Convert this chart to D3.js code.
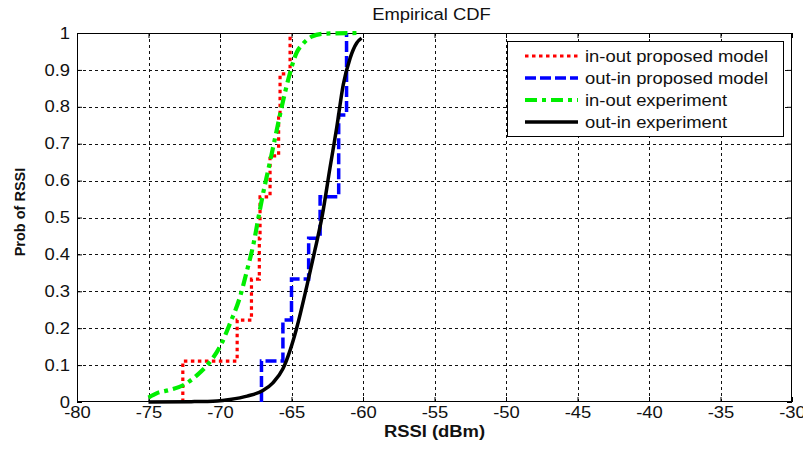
<!DOCTYPE html>
<html><head><meta charset="utf-8">
<script src="https://cdn.jsdelivr.net/npm/d3@7/dist/d3.min.js"></script>
<style>
html,body{margin:0;padding:0;background:#fff;}
svg{display:block;}
text{font-family:"Liberation Sans",Arial,sans-serif;fill:#111;}
</style></head>
<body>
<script>
// ---- data ----
const xTicks = [-80,-75,-70,-65,-60,-55,-50,-45,-40,-35,-30];
const yTicks = [0,0.1,0.2,0.3,0.4,0.5,0.6,0.7,0.8,0.9,1];

// in-out proposed model (stairs)
const redX = [-72.6,-72.6,-68.8,-67.8,-67.25,-67.2,-66.5,-65.9,-65.8,-65.1];
const redP = [0,0.111,0.222,0.333,0.444,0.556,0.667,0.778,0.889,1.0];
// out-in proposed model (stairs)
const blueX = [-67.1,-67.1,-65.6,-65.0,-63.8,-63.0,-61.7,-61.7,-61.15,-61.15];
const blueP = [0,0.111,0.222,0.333,0.444,0.556,0.667,0.778,0.889,1.0];
// in-out experiment
const greenX = [-75.0,-74.4,-73.5,-72.5,-71.6,-70.7,-70.0,-69.3,-68.6,-68.1,-67.65,-67.3,-67.05,-66.6,-66.15,-65.7,-65.2,-64.65,-64.17,-63.6,-62.8,-60.3];
const greenP = [0.012,0.024,0.033,0.047,0.073,0.109,0.15,0.213,0.285,0.358,0.43,0.502,0.553,0.634,0.715,0.797,0.878,0.946,0.972,0.99,0.998,1.0];
// out-in experiment
const blackX = [-75.0,-72.0,-70.2,-69.3,-68.1,-67.0,-66.3,-65.6,-65.1,-64.64,-63.94,-63.36,-62.85,-62.31,-61.84,-61.38,-60.9,-60.44,-60.1];
const blackP = [0,0.001,0.003,0.007,0.016,0.031,0.052,0.09,0.14,0.2,0.312,0.412,0.505,0.634,0.743,0.86,0.932,0.973,0.986];

const seriesNames = ["in-out proposed model","out-in proposed model","in-out experiment","out-in experiment"];

// ---- layout ----
const W = 803, H = 449;
const L = 77, R = 792, T = 33, B = 402;
const STRETCH = 1.15;

const svg = d3.select("body").append("svg").attr("width",W).attr("height",H);
svg.append("rect").attr("width",W).attr("height",H).attr("fill","#fff");

const x = d3.scaleLinear().domain([-80,-30]).range([L,R]);
const y = d3.scaleLinear().domain([0,1]).range([B,T]);

// grid
const grid = svg.append("g").attr("stroke","#111").attr("stroke-width",1).attr("stroke-dasharray","3,3");
xTicks.slice(1,-1).forEach(v=>{
  grid.append("line").attr("x1",Math.round(x(v))+0.5).attr("x2",Math.round(x(v))+0.5).attr("y1",T).attr("y2",B);
});
yTicks.slice(1,-1).forEach(v=>{
  grid.append("line").attr("y1",Math.round(y(v))+0.5).attr("y2",Math.round(y(v))+0.5).attr("x1",L).attr("x2",R);
});

// axes
const fmt = d=>String(d);
const gx = svg.append("g").attr("transform",`translate(0,${B})`)
  .call(d3.axisBottom(x).tickValues(xTicks).tickFormat(fmt).tickSizeInner(-5).tickSizeOuter(0).tickPadding(5));
const gy = svg.append("g").attr("transform",`translate(${L},0)`)
  .call(d3.axisLeft(y).tickValues(yTicks).tickFormat(fmt).tickSizeInner(-5).tickSizeOuter(0).tickPadding(7));
const gxt = svg.append("g").attr("transform",`translate(0,${T})`)
  .call(d3.axisTop(x).tickValues(xTicks).tickFormat("").tickSizeInner(-5).tickSizeOuter(0));
const gyr = svg.append("g").attr("transform",`translate(${R},0)`)
  .call(d3.axisRight(y).tickValues(yTicks).tickFormat("").tickSizeInner(-5).tickSizeOuter(0));
[gx,gy,gxt,gyr].forEach(g=>{
  g.select(".domain").remove();
  g.selectAll("line").attr("stroke","#000");
  g.selectAll("text").attr("font-size",16).attr("fill","#111").attr("font-family","Liberation Sans, Arial, sans-serif");
});
gx.selectAll("text").attr("dy","0.66em");

// box
svg.append("rect").attr("x",L+0.5).attr("y",T+0.5).attr("width",R-L-1).attr("height",B-T-1)
  .attr("fill","none").attr("stroke","#000").attr("stroke-width",1);

// series
const plot = svg.append("g");
svg.append("clipPath").attr("id","clip").append("rect").attr("x",L-3).attr("y",T-3).attr("width",R-L+6).attr("height",B-T+6);
const styles = [
  {color:"#ff0000", dash:"3.5,3.5", width:3.2},
  {color:"#0000ff", dash:"11,4", width:3.5},
  {color:"#00ee00", dash:"12,5,4,5", width:4.2},
  {color:"#000000", dash:null, width:3.5}
];
const zip = (xs,ps)=>xs.map((v,i)=>[v,ps[i]]);
const stepLine = d3.line().x(d=>x(d[0])).y(d=>y(d[1])).curve(d3.curveStepAfter);
const smoothLine = d3.line().x(d=>x(d[0])).y(d=>y(d[1])).curve(d3.curveMonotoneX);
const paths = [
  stepLine(zip(redX,redP)),
  stepLine(zip(blueX,blueP)),
  smoothLine(zip(greenX,greenP)),
  smoothLine(zip(blackX,blackP))
];
paths.forEach((p,i)=>{
  const s = styles[i];
  plot.append("path").attr("d",p).attr("fill","none").attr("stroke",s.color)
    .attr("stroke-width",s.width).attr("stroke-dasharray",s.dash)
    .attr("clip-path","url(#clip)");
});

// legend
const lg = svg.append("g");
lg.append("rect").attr("x",507.5).attr("y",41.5).attr("width",276).attr("height",95)
  .attr("fill","#fff").attr("stroke","#000").attr("stroke-width",1);
const rowY = [56,78,100,122];
seriesNames.forEach((n,i)=>{
  const s = styles[i];
  lg.append("line").attr("x1",525).attr("x2",578).attr("y1",rowY[i]).attr("y2",rowY[i])
    .attr("stroke",s.color).attr("stroke-width",s.width).attr("stroke-dasharray",s.dash);
  lg.append("text").attr("class","st").attr("x",585).attr("y",rowY[i]+5.5).attr("font-size",16).text(n);
});

// title and labels
svg.append("text").attr("class","st").attr("x",(L+R)/2-3).attr("y",20).attr("text-anchor","middle")
  .attr("font-size",16).text("Empirical CDF");
svg.append("text").attr("class","st").attr("x",(L+R)/2).attr("y",437).attr("text-anchor","middle")
  .attr("font-size",16).attr("font-weight","bold").text("RSSI (dBm)");
svg.append("text").attr("transform",`translate(25,${212}) rotate(-90)`).attr("text-anchor","middle")
  .attr("font-size",14.5).attr("font-weight","bold").text("Prob of RSSI");

// horizontal stretch of text, as in the reference
gx.selectAll("text").classed("st",true);
gy.selectAll("text").classed("st",true);
svg.selectAll("text.st").each(function(){
  const w = this.getComputedTextLength();
  d3.select(this).attr("textLength",w*STRETCH).attr("lengthAdjust","spacingAndGlyphs");
});
</script>
</body></html>
